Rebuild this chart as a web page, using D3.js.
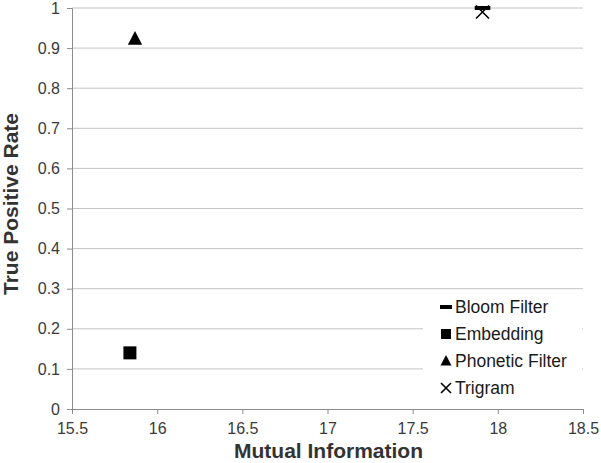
<!DOCTYPE html>
<html>
<head>
<meta charset="utf-8">
<script src="https://cdn.jsdelivr.net/npm/d3@7"></script>
<style>
    body { margin: 0; background: #fff; }
    svg text { font-family: "Liberation Sans", Arial, sans-serif; }
</style>
</head>
<body>
<div id="chart"></div>
<script>
// data
let series = ["Bloom Filter", "Embedding", "Phonetic Filter", "Trigram"];
let mutualInfo = [17.91, 15.84, 15.87, 17.91];
let truePositive = [1.0, 0.14, 0.923, 0.99];
let xTicks = [15.5, 16, 16.5, 17, 17.5, 18, 18.5];
let yTicks = [0, 0.1, 0.2, 0.3, 0.4, 0.5, 0.6, 0.7, 0.8, 0.9, 1];

let margin = {top: 8, right: 18, bottom: 54, left: 72};
let width = 601 - margin.left - margin.right;
let height = 463 - margin.top - margin.bottom;

let svg = d3.select("#chart").append("svg")
    .attr("width", 601)
    .attr("height", 463)
    .append("g")
    .attr("transform", `translate(${margin.left},${margin.top})`);

let x = d3.scaleLinear().domain([15.5, 18.5]).range([0, width]);
let y = d3.scaleLinear().domain([0, 1]).range([height, 0]);

// gridlines
svg.append("g")
    .selectAll("line")
    .data(yTicks.filter(d => d > 0))
    .join("line")
    .attr("x1", 0)
    .attr("x2", width)
    .attr("y1", d => y(d))
    .attr("y2", d => y(d))
    .attr("stroke", "#c4c4c4")
    .attr("stroke-width", 1);

// axes
let yAxis = d3.axisLeft(y).tickValues(yTicks).tickSize(5).tickPadding(7)
    .tickFormat(d => d3.format("~g")(d));
let xAxis = d3.axisBottom(x).tickValues(xTicks).tickSize(5).tickPadding(9)
    .tickFormat(d => d3.format("~g")(d));

svg.append("g").call(yAxis).call(styleAxis);
svg.append("g").attr("transform", `translate(0,${height})`).call(xAxis).call(styleAxis);

function styleAxis(g) {
    g.select(".domain").attr("stroke", "#8c8c8c");
    g.selectAll(".tick line").attr("stroke", "#8c8c8c");
    g.selectAll(".tick text")
        .attr("fill", "#3a3a3a")
        .style("font-size", "16px");
}

// axis titles
svg.append("text")
    .text("Mutual Information")
    .attr("x", width / 2 + 1)
    .attr("y", height + 49)
    .attr("text-anchor", "middle")
    .style("font-size", "21px")
    .style("font-weight", "bold")
    .attr("fill", "#333");

svg.append("text")
    .text("True Positive Rate")
    .attr("transform", `translate(${-54},${196})rotate(-90)`)
    .attr("text-anchor", "middle")
    .style("font-size", "21px")
    .style("font-weight", "bold")
    .attr("fill", "#333");

// marker shapes
function drawMarker(g, i, cx, cy, s) {
    if (i === 0) {
        g.append("rect").attr("x", cx - s * 0.6).attr("y", cy - 2)
            .attr("width", s * 1.2).attr("height", 4).attr("fill", "#000");
    } else if (i === 1) {
        g.append("rect").attr("x", cx - s / 2).attr("y", cy - s / 2)
            .attr("width", s).attr("height", s).attr("fill", "#000");
    } else if (i === 2) {
        g.append("path")
            .attr("d", `M${cx},${cy - s * 0.6}L${cx + s * 0.55},${cy + s * 0.45}L${cx - s * 0.55},${cy + s * 0.45}Z`)
            .attr("fill", "#000");
    } else {
        let h = s / 2;
        g.append("path")
            .attr("d", `M${cx - h},${cy - h}L${cx + h},${cy + h}M${cx - h},${cy + h}L${cx + h},${cy - h}`)
            .attr("stroke", "#000").attr("stroke-width", 1.6).attr("fill", "none");
    }
}

// legend (white box covers gridlines)
let legend = svg.append("g").attr("transform", `translate(${width - 160},${292 - margin.top})`);
legend.append("rect").attr("x", 0).attr("y", 0).attr("width", 159).attr("height", 112).attr("fill", "#fff");
series.forEach((name, i) => {
    let ly = 15 + i * 27;
    drawMarker(legend, i, 23, ly, 10);
    legend.append("text")
        .text(name)
        .attr("x", 32)
        .attr("y", ly + 6)
        .style("font-size", "17.5px")
        .attr("fill", "#1a1a1a");
});

// points
let points = svg.append("g");
series.forEach((name, i) => {
    drawMarker(points, i, x(mutualInfo[i]), y(truePositive[i]), 13);
});
</script>
</body>
</html>
